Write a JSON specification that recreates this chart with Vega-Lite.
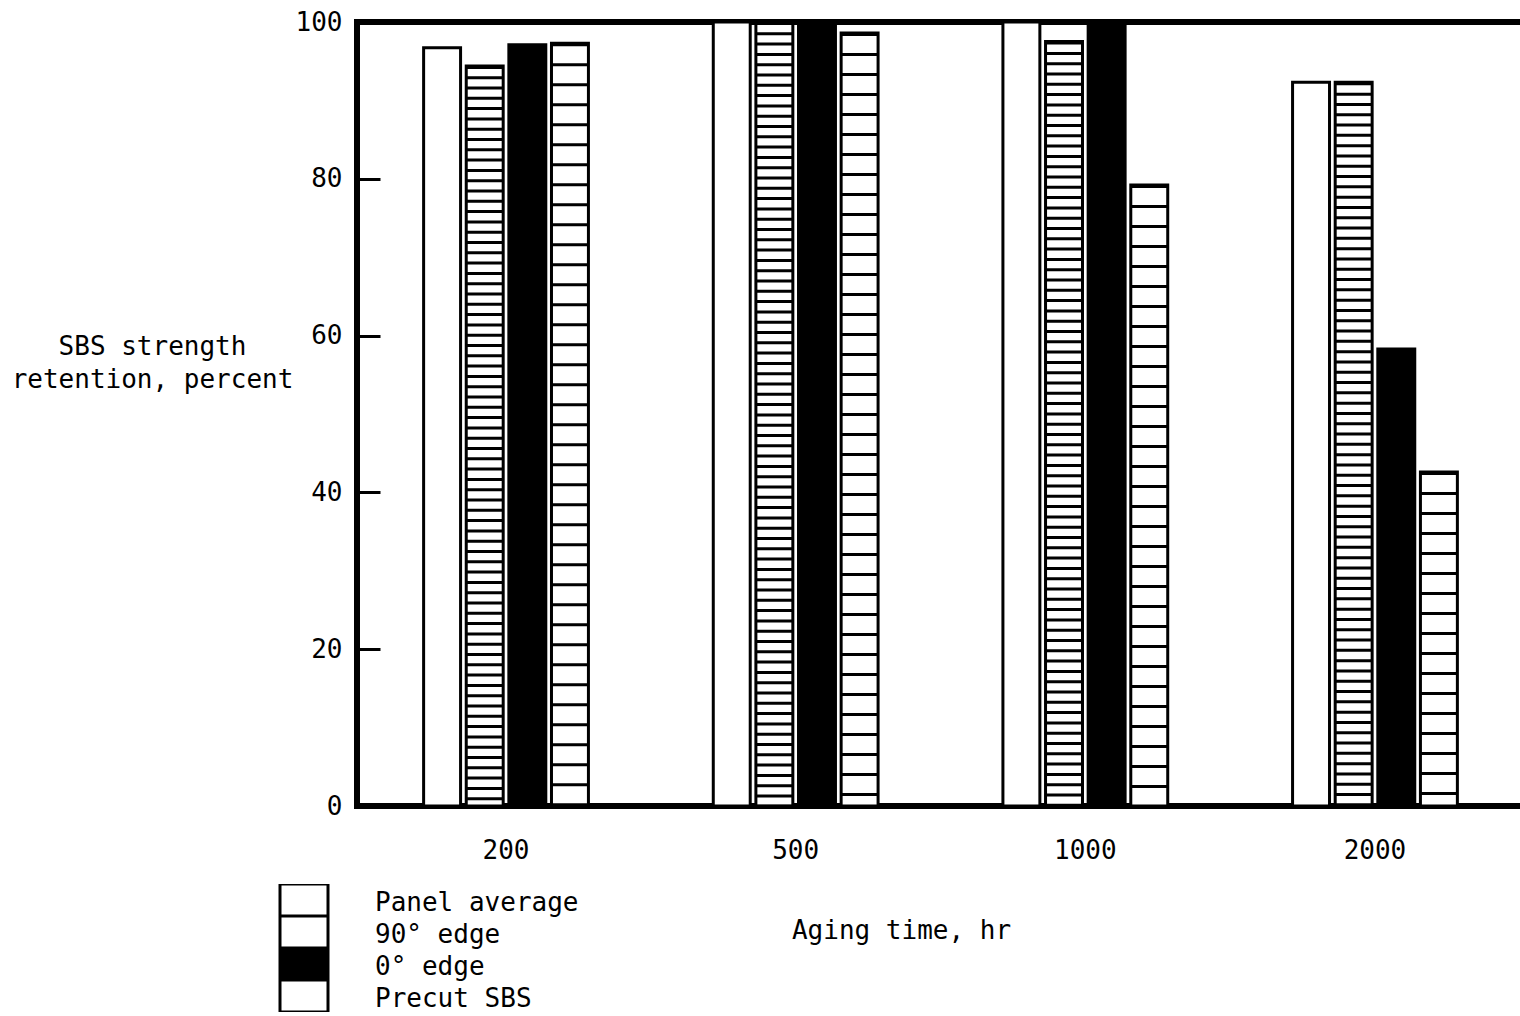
{
  "$schema": "https://vega.github.io/schema/vega-lite/v6.json",
  "width": 1167,
  "height": 784,
  "autosize": {"type": "none"},
  "padding": {"left": 357, "top": 22, "right": 0, "bottom": 210},
  "background": "white",
  "config": {
    "view": {"stroke": "black", "strokeWidth": 6},
    "font": "DejaVu Sans Mono"
  },
  "data": {
    "values": [
      {"hours": "200", "series": "Panel average", "retention": 96.7},
      {"hours": "200", "series": "90° edge", "retention": 94.4},
      {"hours": "200", "series": "0° edge", "retention": 97.1},
      {"hours": "200", "series": "Precut SBS", "retention": 97.3},
      {"hours": "500", "series": "Panel average", "retention": 100},
      {"hours": "500", "series": "90° edge", "retention": 100},
      {"hours": "500", "series": "0° edge", "retention": 100},
      {"hours": "500", "series": "Precut SBS", "retention": 98.6},
      {"hours": "1000", "series": "Panel average", "retention": 100},
      {"hours": "1000", "series": "90° edge", "retention": 97.5},
      {"hours": "1000", "series": "0° edge", "retention": 100},
      {"hours": "1000", "series": "Precut SBS", "retention": 79.2},
      {"hours": "2000", "series": "Panel average", "retention": 92.3},
      {"hours": "2000", "series": "90° edge", "retention": 92.3},
      {"hours": "2000", "series": "0° edge", "retention": 58.3},
      {"hours": "2000", "series": "Precut SBS", "retention": 42.6}
    ]
  },
  "encoding": {
    "x": {
      "field": "hours",
      "type": "ordinal",
      "sort": ["200", "500", "1000", "2000"],
      "scale": {"paddingInner": 0.431, "paddingOuter": 0.23},
      "axis": {
        "title": "Aging time, hr",
        "titleX": 544,
        "titleY": 124,
        "titleAlign": "center",
        "titleBaseline": "middle",
        "titleFontSize": 26,
        "titleFontWeight": "normal",
        "titleFont": "DejaVu Sans Mono",
        "titleColor": "black",
        "labelAngle": 0,
        "labelFontSize": 26,
        "labelFont": "DejaVu Sans Mono",
        "labelColor": "black",
        "labelPadding": 31,
        "labelBaseline": "top",
        "ticks": false,
        "tickSize": 0,
        "domain": false,
        "grid": false
      }
    },
    "xOffset": {
      "field": "series",
      "type": "nominal",
      "sort": ["Panel average", "90° edge", "0° edge", "Precut SBS"],
      "scale": {"paddingInner": 0.133, "paddingOuter": 0}
    },
    "y": {
      "field": "retention",
      "type": "quantitative",
      "stack": null,
      "scale": {"domain": [0, 100], "nice": false, "zero": true},
      "axis": {
        "title": ["SBS strength", "retention, percent"],
        "titleAngle": 0,
        "titleAlign": "center",
        "titleBaseline": "middle",
        "titleX": -205,
        "titleY": 324.5,
        "titleLineHeight": 33,
        "titleFontSize": 26,
        "titleFontWeight": "normal",
        "titleFont": "DejaVu Sans Mono",
        "titleColor": "black",
        "values": [0, 20, 40, 60, 80, 100],
        "tickSize": -23,
        "tickWidth": 3,
        "tickColor": "black",
        "labelFontSize": 26,
        "labelFont": "DejaVu Sans Mono",
        "labelColor": "black",
        "labelPadding": 38,
        "domain": false,
        "grid": false
      }
    }
  },
  "layer": [
    {
      "mark": {"type": "bar", "stroke": "black", "strokeWidth": 3},
      "encoding": {
        "fill": {
          "field": "series",
          "type": "nominal",
          "sort": ["Panel average", "90° edge", "0° edge", "Precut SBS"],
          "scale": {
            "domain": ["Panel average", "90° edge", "0° edge", "Precut SBS"],
            "range": ["white", "white", "black", "white"]
          },
          "legend": {
            "title": null,
            "orient": "none",
            "legendX": -80.5,
            "legendY": 862,
            "symbolType": "M-1.5,-1H1.5V1H-1.5Z",
            "symbolSize": 1024,
            "symbolOffset": 10,
            "symbolStrokeColor": "black",
            "symbolStrokeWidth": 3,
            "symbolOpacity": 1,
            "clipHeight": 32,
            "labelFontSize": 26,
            "labelFont": "DejaVu Sans Mono",
            "labelColor": "black",
            "labelOffset": 53.5,
            "labelLimit": 400,
            "rowPadding": 0,
            "padding": 0,
            "encode": {"labels": {"update": {"dy": {"value": 3}}}}
          }
        }
      }
    },
    {
      "transform": [{"filter": "datum.series === '90° edge'"}],
      "mark": {"type": "rule", "strokeDash": [3, 7.3], "strokeWidth": 36, "color": "black", "strokeCap": "butt"},
      "encoding": {"y2": {"datum": 0}}
    },
    {
      "transform": [{"filter": "datum.series === 'Precut SBS'"}],
      "mark": {"type": "rule", "strokeDash": [3, 17], "strokeWidth": 36, "color": "black", "strokeCap": "butt"},
      "encoding": {"y2": {"datum": 0}}
    }
  ]
}
